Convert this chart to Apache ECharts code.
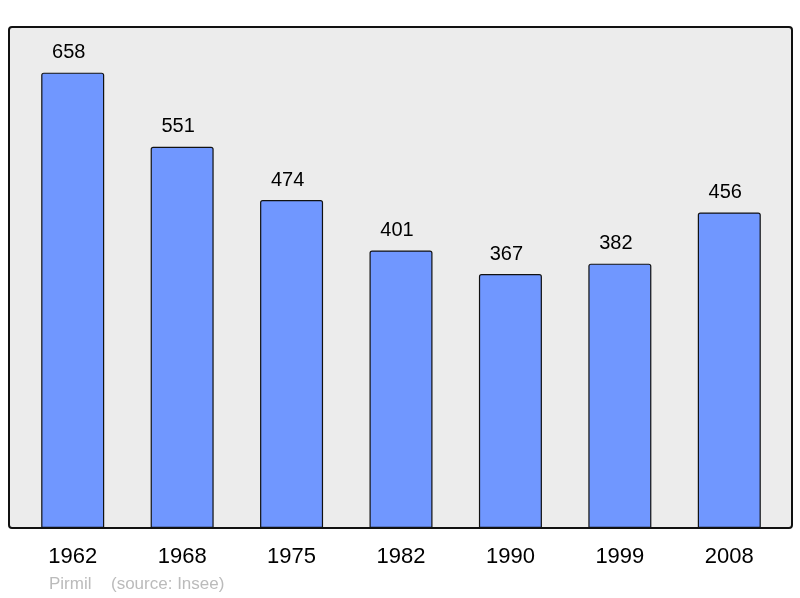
<!DOCTYPE html>
<html><head><meta charset="utf-8">
<script src="https://cdn.jsdelivr.net/npm/echarts@6/dist/echarts.min.js"></script>
<style>html,body{margin:0;padding:0;background:#fff}#c{width:800px;height:598px}</style>
</head><body><div id="c"></div>
<script>
var years = ['1962','1968','1975','1982','1990','1999','2008'];
var population = [658, 551, 474, 401, 367, 382, 456];
var commune = 'Pirmil';
var source = '(source: Insee)';

var chart = echarts.init(document.getElementById('c'), null, {renderer:'canvas'});
chart.setOption({
  animation: false,
  graphic: [
    {type:'rect', z:-10, shape:{x:9, y:27, width:783, height:501, r:3},
     style:{fill:'#ececec', stroke:'#111', lineWidth:2}},
    {type:'text', left:49, top:576, style:{text:commune, fill:'#bbbbbb', font:'17px "Liberation Sans", Arial, sans-serif'}},
    {type:'text', left:111, top:576, style:{text:source, fill:'#bbbbbb', font:'17px "Liberation Sans", Arial, sans-serif'}}
  ],
  grid: {left:18, right:16, top:27, bottom:70, containLabel:false},
  xAxis: {
    type:'category', data: years,
    axisLine:{show:false}, axisTick:{show:false},
    axisLabel:{color:'#000', fontSize:22, fontFamily:'"Liberation Sans", Arial, sans-serif', margin:18}
  },
  yAxis: {type:'value', min:0, max:724, show:false, splitLine:{show:false}},
  series: [{
    type:'bar', data: population, barWidth:63,
    itemStyle:{color:'#7097ff', borderColor:'#111', borderWidth:1.2, borderRadius:[2,2,0,0]},
    label:{show:true, position:'top', distance:10, offset:[-4,0], color:'#000', fontSize:20, fontFamily:'"Liberation Sans", Arial, sans-serif'}
  }]
});
</script></body></html>
